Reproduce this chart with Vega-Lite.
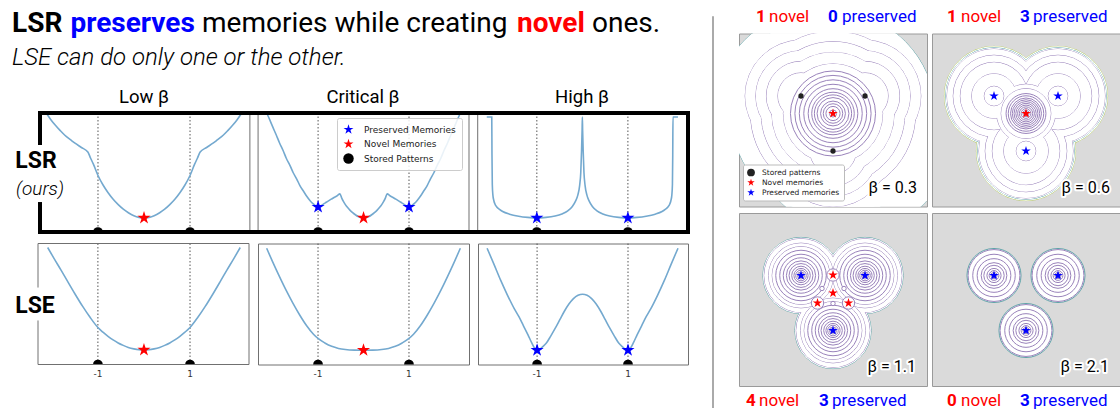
{
"$schema": "https://vega.github.io/schema/vega-lite/v6.json",
"padding": 0,
"background": "white",
"config": {"view": {"stroke": null}, "font": "Roboto", "title": {"font": "Roboto", "fontSize": 17, "fontWeight": "normal", "color": "#000000"}},
"datasets": {
"curves": [
{"g":"LSR Low","x":-2.11,"y":9.92},{"g":"LSR Low","x":-2.02,"y":9.42},{"g":"LSR Low","x":-1.93,"y":8.99},{"g":"LSR Low","x":-1.82,"y":8.52},{"g":"LSR Low","x":-1.72,"y":8.13},{"g":"LSR Low","x":-1.6,"y":7.76},{"g":"LSR Low","x":-1.5,"y":7.46},{"g":"LSR Low","x":-1.36,"y":7.1},{"g":"LSR Low","x":-1.22,"y":6.72},{"g":"LSR Low","x":-1.16,"y":6.2},{"g":"LSR Low","x":-1.1,"y":5.7},{"g":"LSR Low","x":-1.0,"y":4.75},{"g":"LSR Low","x":-0.89,"y":3.95},{"g":"LSR Low","x":-0.78,"y":3.3},{"g":"LSR Low","x":-0.67,"y":2.75},{"g":"LSR Low","x":-0.56,"y":2.3},{"g":"LSR Low","x":-0.45,"y":1.92},{"g":"LSR Low","x":-0.34,"y":1.62},{"g":"LSR Low","x":-0.22,"y":1.37},{"g":"LSR Low","x":-0.11,"y":1.23},{"g":"LSR Low","x":0,"y":1.18},
{"g":"LSR Low","x":0.11,"y":1.23},{"g":"LSR Low","x":0.22,"y":1.37},{"g":"LSR Low","x":0.34,"y":1.62},{"g":"LSR Low","x":0.45,"y":1.92},{"g":"LSR Low","x":0.56,"y":2.3},{"g":"LSR Low","x":0.67,"y":2.75},{"g":"LSR Low","x":0.78,"y":3.3},{"g":"LSR Low","x":0.89,"y":3.95},{"g":"LSR Low","x":1.0,"y":4.75},{"g":"LSR Low","x":1.1,"y":5.7},{"g":"LSR Low","x":1.16,"y":6.2},{"g":"LSR Low","x":1.22,"y":6.72},{"g":"LSR Low","x":1.36,"y":7.1},{"g":"LSR Low","x":1.5,"y":7.46},{"g":"LSR Low","x":1.6,"y":7.76},{"g":"LSR Low","x":1.72,"y":8.13},{"g":"LSR Low","x":1.82,"y":8.52},{"g":"LSR Low","x":1.93,"y":8.99},{"g":"LSR Low","x":2.02,"y":9.42},{"g":"LSR Low","x":2.11,"y":9.92},
{"g":"LSR Crit","x":-2.12,"y":9.92},{"g":"LSR Crit","x":-2.06,"y":9.4},{"g":"LSR Crit","x":-2.0,"y":8.85},{"g":"LSR Crit","x":-1.92,"y":8.15},{"g":"LSR Crit","x":-1.85,"y":7.5},{"g":"LSR Crit","x":-1.77,"y":6.85},{"g":"LSR Crit","x":-1.7,"y":6.2},{"g":"LSR Crit","x":-1.62,"y":5.6},{"g":"LSR Crit","x":-1.55,"y":5.0},{"g":"LSR Crit","x":-1.47,"y":4.45},{"g":"LSR Crit","x":-1.4,"y":3.9},{"g":"LSR Crit","x":-1.32,"y":3.42},{"g":"LSR Crit","x":-1.25,"y":3.0},{"g":"LSR Crit","x":-1.18,"y":2.65},{"g":"LSR Crit","x":-1.12,"y":2.4},{"g":"LSR Crit","x":-1.06,"y":2.22},{"g":"LSR Crit","x":-1.0,"y":2.1},{"g":"LSR Crit","x":-0.95,"y":2.18},{"g":"LSR Crit","x":-0.9,"y":2.3},{"g":"LSR Crit","x":-0.84,"y":2.45},{"g":"LSR Crit","x":-0.78,"y":2.6},{"g":"LSR Crit","x":-0.71,"y":2.76},{"g":"LSR Crit","x":-0.65,"y":2.9},{"g":"LSR Crit","x":-0.58,"y":3.05},{"g":"LSR Crit","x":-0.52,"y":3.2},{"g":"LSR Crit","x":-0.48,"y":2.85},{"g":"LSR Crit","x":-0.44,"y":2.55},{"g":"LSR Crit","x":-0.4,"y":2.3},{"g":"LSR Crit","x":-0.35,"y":2.05},{"g":"LSR Crit","x":-0.3,"y":1.84},{"g":"LSR Crit","x":-0.24,"y":1.63},{"g":"LSR Crit","x":-0.18,"y":1.45},{"g":"LSR Crit","x":-0.12,"y":1.3},{"g":"LSR Crit","x":-0.06,"y":1.21},{"g":"LSR Crit","x":0,"y":1.18},
{"g":"LSR Crit","x":0.06,"y":1.21},{"g":"LSR Crit","x":0.12,"y":1.3},{"g":"LSR Crit","x":0.18,"y":1.45},{"g":"LSR Crit","x":0.24,"y":1.63},{"g":"LSR Crit","x":0.3,"y":1.84},{"g":"LSR Crit","x":0.35,"y":2.05},{"g":"LSR Crit","x":0.4,"y":2.3},{"g":"LSR Crit","x":0.44,"y":2.55},{"g":"LSR Crit","x":0.48,"y":2.85},{"g":"LSR Crit","x":0.52,"y":3.2},{"g":"LSR Crit","x":0.58,"y":3.05},{"g":"LSR Crit","x":0.65,"y":2.9},{"g":"LSR Crit","x":0.71,"y":2.76},{"g":"LSR Crit","x":0.78,"y":2.6},{"g":"LSR Crit","x":0.84,"y":2.45},{"g":"LSR Crit","x":0.9,"y":2.3},{"g":"LSR Crit","x":0.95,"y":2.18},{"g":"LSR Crit","x":1.0,"y":2.1},{"g":"LSR Crit","x":1.06,"y":2.22},{"g":"LSR Crit","x":1.12,"y":2.4},{"g":"LSR Crit","x":1.18,"y":2.65},{"g":"LSR Crit","x":1.25,"y":3.0},{"g":"LSR Crit","x":1.32,"y":3.42},{"g":"LSR Crit","x":1.4,"y":3.9},{"g":"LSR Crit","x":1.47,"y":4.45},{"g":"LSR Crit","x":1.55,"y":5.0},{"g":"LSR Crit","x":1.62,"y":5.6},{"g":"LSR Crit","x":1.7,"y":6.2},{"g":"LSR Crit","x":1.77,"y":6.85},{"g":"LSR Crit","x":1.85,"y":7.5},{"g":"LSR Crit","x":1.92,"y":8.15},{"g":"LSR Crit","x":2.0,"y":8.85},{"g":"LSR Crit","x":2.06,"y":9.4},{"g":"LSR Crit","x":2.12,"y":9.92},
{"g":"LSR High","x":-2.1,"y":9.66},{"g":"LSR High","x":-1.99,"y":9.66},{"g":"LSR High","x":-1.985,"y":6.5},{"g":"LSR High","x":-1.978,"y":4.0},{"g":"LSR High","x":-1.965,"y":3.1},{"g":"LSR High","x":-1.945,"y":2.65},{"g":"LSR High","x":-1.92,"y":2.35},{"g":"LSR High","x":-1.88,"y":2.1},{"g":"LSR High","x":-1.82,"y":1.9},{"g":"LSR High","x":-1.75,"y":1.72},{"g":"LSR High","x":-1.6,"y":1.5},{"g":"LSR High","x":-1.4,"y":1.33},{"g":"LSR High","x":-1.2,"y":1.23},{"g":"LSR High","x":-1.0,"y":1.18},{"g":"LSR High","x":-0.8,"y":1.23},{"g":"LSR High","x":-0.6,"y":1.35},{"g":"LSR High","x":-0.45,"y":1.52},{"g":"LSR High","x":-0.32,"y":1.78},{"g":"LSR High","x":-0.22,"y":2.15},{"g":"LSR High","x":-0.15,"y":2.6},{"g":"LSR High","x":-0.1,"y":3.1},{"g":"LSR High","x":-0.06,"y":3.9},{"g":"LSR High","x":-0.035,"y":5.0},{"g":"LSR High","x":-0.018,"y":6.8},{"g":"LSR High","x":-0.006,"y":8.5},{"g":"LSR High","x":0,"y":9.66},
{"g":"LSR High","x":0.006,"y":8.5},{"g":"LSR High","x":0.018,"y":6.8},{"g":"LSR High","x":0.035,"y":5.0},{"g":"LSR High","x":0.06,"y":3.9},{"g":"LSR High","x":0.1,"y":3.1},{"g":"LSR High","x":0.15,"y":2.6},{"g":"LSR High","x":0.22,"y":2.15},{"g":"LSR High","x":0.32,"y":1.78},{"g":"LSR High","x":0.45,"y":1.52},{"g":"LSR High","x":0.6,"y":1.35},{"g":"LSR High","x":0.8,"y":1.23},{"g":"LSR High","x":1.0,"y":1.18},{"g":"LSR High","x":1.2,"y":1.23},{"g":"LSR High","x":1.4,"y":1.33},{"g":"LSR High","x":1.6,"y":1.5},{"g":"LSR High","x":1.75,"y":1.72},{"g":"LSR High","x":1.82,"y":1.9},{"g":"LSR High","x":1.88,"y":2.1},{"g":"LSR High","x":1.92,"y":2.35},{"g":"LSR High","x":1.945,"y":2.65},{"g":"LSR High","x":1.965,"y":3.1},{"g":"LSR High","x":1.978,"y":4.0},{"g":"LSR High","x":1.985,"y":6.5},{"g":"LSR High","x":1.99,"y":9.66},{"g":"LSR High","x":2.1,"y":9.66},
{"g":"LSE Low","x":-2.09,"y":9.67},{"g":"LSE Low","x":-1.95,"y":8.75},{"g":"LSE Low","x":-1.8,"y":7.8},{"g":"LSE Low","x":-1.67,"y":6.95},{"g":"LSE Low","x":-1.5,"y":5.85},{"g":"LSE Low","x":-1.33,"y":4.8},{"g":"LSE Low","x":-1.17,"y":3.9},{"g":"LSE Low","x":-1.0,"y":3.06},{"g":"LSE Low","x":-0.89,"y":2.67},{"g":"LSE Low","x":-0.78,"y":2.33},{"g":"LSE Low","x":-0.67,"y":2.03},{"g":"LSE Low","x":-0.56,"y":1.78},{"g":"LSE Low","x":-0.45,"y":1.58},{"g":"LSE Low","x":-0.34,"y":1.41},{"g":"LSE Low","x":-0.22,"y":1.29},{"g":"LSE Low","x":-0.11,"y":1.22},{"g":"LSE Low","x":0,"y":1.2},
{"g":"LSE Low","x":0.11,"y":1.22},{"g":"LSE Low","x":0.22,"y":1.29},{"g":"LSE Low","x":0.34,"y":1.41},{"g":"LSE Low","x":0.45,"y":1.58},{"g":"LSE Low","x":0.56,"y":1.78},{"g":"LSE Low","x":0.67,"y":2.03},{"g":"LSE Low","x":0.78,"y":2.33},{"g":"LSE Low","x":0.89,"y":2.67},{"g":"LSE Low","x":1.0,"y":3.06},{"g":"LSE Low","x":1.17,"y":3.9},{"g":"LSE Low","x":1.33,"y":4.8},{"g":"LSE Low","x":1.5,"y":5.85},{"g":"LSE Low","x":1.67,"y":6.95},{"g":"LSE Low","x":1.8,"y":7.8},{"g":"LSE Low","x":1.95,"y":8.75},{"g":"LSE Low","x":2.09,"y":9.67},
{"g":"LSE Crit","x":-2.13,"y":9.61},{"g":"LSE Crit","x":-2.0,"y":8.5},{"g":"LSE Crit","x":-1.85,"y":7.28},{"g":"LSE Crit","x":-1.7,"y":6.12},{"g":"LSE Crit","x":-1.55,"y":5.05},{"g":"LSE Crit","x":-1.4,"y":4.07},{"g":"LSE Crit","x":-1.25,"y":3.2},{"g":"LSE Crit","x":-1.1,"y":2.5},{"g":"LSE Crit","x":-1.0,"y":2.15},{"g":"LSE Crit","x":-0.85,"y":1.78},{"g":"LSE Crit","x":-0.7,"y":1.5},{"g":"LSE Crit","x":-0.55,"y":1.33},{"g":"LSE Crit","x":-0.4,"y":1.24},{"g":"LSE Crit","x":-0.2,"y":1.19},{"g":"LSE Crit","x":0,"y":1.18},
{"g":"LSE Crit","x":0.2,"y":1.19},{"g":"LSE Crit","x":0.4,"y":1.24},{"g":"LSE Crit","x":0.55,"y":1.33},{"g":"LSE Crit","x":0.7,"y":1.5},{"g":"LSE Crit","x":0.85,"y":1.78},{"g":"LSE Crit","x":1.0,"y":2.15},{"g":"LSE Crit","x":1.1,"y":2.5},{"g":"LSE Crit","x":1.25,"y":3.2},{"g":"LSE Crit","x":1.4,"y":4.07},{"g":"LSE Crit","x":1.55,"y":5.05},{"g":"LSE Crit","x":1.7,"y":6.12},{"g":"LSE Crit","x":1.85,"y":7.28},{"g":"LSE Crit","x":2.0,"y":8.5},{"g":"LSE Crit","x":2.13,"y":9.61},
{"g":"LSE High","x":-2.1,"y":9.61},{"g":"LSE High","x":-1.95,"y":8.3},{"g":"LSE High","x":-1.8,"y":6.95},{"g":"LSE High","x":-1.65,"y":5.72},{"g":"LSE High","x":-1.5,"y":4.6},{"g":"LSE High","x":-1.4,"y":3.95},{"g":"LSE High","x":-1.3,"y":3.2},{"g":"LSE High","x":-1.2,"y":2.45},{"g":"LSE High","x":-1.12,"y":1.8},{"g":"LSE High","x":-1.06,"y":1.38},{"g":"LSE High","x":-1.0,"y":1.18},{"g":"LSE High","x":-0.94,"y":1.25},{"g":"LSE High","x":-0.88,"y":1.45},{"g":"LSE High","x":-0.8,"y":1.75},{"g":"LSE High","x":-0.7,"y":2.35},{"g":"LSE High","x":-0.6,"y":3.0},{"g":"LSE High","x":-0.5,"y":3.7},{"g":"LSE High","x":-0.4,"y":4.4},{"g":"LSE High","x":-0.3,"y":5.0},{"g":"LSE High","x":-0.2,"y":5.45},{"g":"LSE High","x":-0.1,"y":5.72},{"g":"LSE High","x":0,"y":5.81},
{"g":"LSE High","x":0.1,"y":5.72},{"g":"LSE High","x":0.2,"y":5.45},{"g":"LSE High","x":0.3,"y":5.0},{"g":"LSE High","x":0.4,"y":4.4},{"g":"LSE High","x":0.5,"y":3.7},{"g":"LSE High","x":0.6,"y":3.0},{"g":"LSE High","x":0.7,"y":2.35},{"g":"LSE High","x":0.8,"y":1.75},{"g":"LSE High","x":0.88,"y":1.45},{"g":"LSE High","x":0.94,"y":1.25},{"g":"LSE High","x":1.0,"y":1.18},{"g":"LSE High","x":1.06,"y":1.38},{"g":"LSE High","x":1.12,"y":1.8},{"g":"LSE High","x":1.2,"y":2.45},{"g":"LSE High","x":1.3,"y":3.2},{"g":"LSE High","x":1.4,"y":3.95},{"g":"LSE High","x":1.5,"y":4.6},{"g":"LSE High","x":1.65,"y":5.72},{"g":"LSE High","x":1.8,"y":6.95},{"g":"LSE High","x":1.95,"y":8.3},{"g":"LSE High","x":2.1,"y":9.61}
],
"markers": [
{"g":"LSR Low","type":"Novel Memories","x":0,"y":1.18},{"g":"LSR Low","type":"Stored Patterns","x":-1,"y":0},{"g":"LSR Low","type":"Stored Patterns","x":1,"y":0},
{"g":"LSR Crit","type":"Preserved Memories","x":-1,"y":2.1},{"g":"LSR Crit","type":"Preserved Memories","x":1,"y":2.1},{"g":"LSR Crit","type":"Novel Memories","x":0,"y":1.18},{"g":"LSR Crit","type":"Stored Patterns","x":-1,"y":0},{"g":"LSR Crit","type":"Stored Patterns","x":1,"y":0},
{"g":"LSR High","type":"Preserved Memories","x":-1,"y":1.18},{"g":"LSR High","type":"Preserved Memories","x":1,"y":1.18},{"g":"LSR High","type":"Stored Patterns","x":-1,"y":0},{"g":"LSR High","type":"Stored Patterns","x":1,"y":0},
{"g":"LSE Low","type":"Novel Memories","x":0,"y":1.2},{"g":"LSE Low","type":"Stored Patterns","x":-1,"y":0},{"g":"LSE Low","type":"Stored Patterns","x":1,"y":0},
{"g":"LSE Crit","type":"Novel Memories","x":0,"y":1.18},{"g":"LSE Crit","type":"Stored Patterns","x":-1,"y":0},{"g":"LSE Crit","type":"Stored Patterns","x":1,"y":0},
{"g":"LSE High","type":"Preserved Memories","x":-1,"y":1.18},{"g":"LSE High","type":"Preserved Memories","x":1,"y":1.18},{"g":"LSE High","type":"Stored Patterns","x":-1,"y":0},{"g":"LSE High","type":"Stored Patterns","x":1,"y":0}
],
"contours": [
{"p":"0.3","lv":1,"ps":1,"x":0,"y":0.13,"r":2.3},{"p":"0.3","lv":1,"ps":1,"x":-0.64,"y":0.48,"r":1.79},{"p":"0.3","lv":1,"ps":1,"x":0.64,"y":0.48,"r":1.35},{"p":"0.3","lv":1,"ps":1,"x":0,"y":-0.62,"r":1.65},{"p":"0.3","lv":1,"ps":1,"x":0.7,"y":-0.6,"r":1.75},
{"p":"0.3","lv":1,"ps":2,"x":0,"y":0.13,"r":2.3},{"p":"0.3","lv":1,"ps":2,"x":-0.64,"y":0.48,"r":1.79},{"p":"0.3","lv":1,"ps":2,"x":0.64,"y":0.48,"r":1.35},{"p":"0.3","lv":1,"ps":2,"x":0,"y":-0.62,"r":1.65},{"p":"0.3","lv":1,"ps":2,"x":0.7,"y":-0.6,"r":1.75},
{"p":"0.3","lv":2,"ps":1,"x":0,"y":0.13,"r":1.86},{"p":"0.3","lv":2,"ps":1,"x":-0.64,"y":0.48,"r":1.26},{"p":"0.3","lv":2,"ps":1,"x":0.64,"y":0.48,"r":1.26},{"p":"0.3","lv":2,"ps":1,"x":0,"y":-0.62,"r":1.26},
{"p":"0.3","lv":2,"ps":2,"x":0,"y":0.13,"r":1.86},{"p":"0.3","lv":2,"ps":2,"x":-0.64,"y":0.48,"r":1.26},{"p":"0.3","lv":2,"ps":2,"x":0.64,"y":0.48,"r":1.26},{"p":"0.3","lv":2,"ps":2,"x":0,"y":-0.62,"r":1.26},
{"p":"0.3","lv":3,"ps":1,"x":0,"y":0.13,"r":1.62},{"p":"0.3","lv":3,"ps":1,"x":-0.64,"y":0.48,"r":1.02},{"p":"0.3","lv":3,"ps":1,"x":0.64,"y":0.48,"r":1.02},{"p":"0.3","lv":3,"ps":1,"x":0,"y":-0.62,"r":1.02},
{"p":"0.3","lv":3,"ps":2,"x":0,"y":0.13,"r":1.62},{"p":"0.3","lv":3,"ps":2,"x":-0.64,"y":0.48,"r":1.02},{"p":"0.3","lv":3,"ps":2,"x":0.64,"y":0.48,"r":1.02},{"p":"0.3","lv":3,"ps":2,"x":0,"y":-0.62,"r":1.02},
{"p":"0.3","lv":4,"ps":1,"x":0,"y":0.13,"r":1.38},{"p":"0.3","lv":4,"ps":1,"x":-0.64,"y":0.48,"r":0.78},{"p":"0.3","lv":4,"ps":1,"x":0.64,"y":0.48,"r":0.78},{"p":"0.3","lv":4,"ps":1,"x":0,"y":-0.62,"r":0.78},
{"p":"0.3","lv":4,"ps":2,"x":0,"y":0.13,"r":1.38},{"p":"0.3","lv":4,"ps":2,"x":-0.64,"y":0.48,"r":0.78},{"p":"0.3","lv":4,"ps":2,"x":0.64,"y":0.48,"r":0.78},{"p":"0.3","lv":4,"ps":2,"x":0,"y":-0.62,"r":0.78},
{"p":"0.3","lv":5,"ps":1,"x":0,"y":0.13,"r":1.12},{"p":"0.3","lv":5,"ps":1,"x":-0.64,"y":0.48,"r":0.52},{"p":"0.3","lv":5,"ps":1,"x":0.64,"y":0.48,"r":0.52},{"p":"0.3","lv":5,"ps":1,"x":0,"y":-0.62,"r":0.52},
{"p":"0.3","lv":5,"ps":2,"x":0,"y":0.13,"r":1.12},{"p":"0.3","lv":5,"ps":2,"x":-0.64,"y":0.48,"r":0.52},{"p":"0.3","lv":5,"ps":2,"x":0.64,"y":0.48,"r":0.52},{"p":"0.3","lv":5,"ps":2,"x":0,"y":-0.62,"r":0.52},
{"p":"0.3","lv":6,"ps":1,"x":0,"y":0.13,"r":0.96},{"p":"0.3","lv":7,"ps":1,"x":0,"y":0.13,"r":0.86},{"p":"0.3","lv":8,"ps":1,"x":0,"y":0.13,"r":0.76},{"p":"0.3","lv":9,"ps":1,"x":0,"y":0.13,"r":0.66},{"p":"0.3","lv":10,"ps":1,"x":0,"y":0.13,"r":0.56},{"p":"0.3","lv":11,"ps":1,"x":0,"y":0.13,"r":0.48},{"p":"0.3","lv":12,"ps":1,"x":0,"y":0.13,"r":0.42},{"p":"0.3","lv":13,"ps":1,"x":0,"y":0.13,"r":0.36},{"p":"0.3","lv":14,"ps":1,"x":0,"y":0.13,"r":0.28},{"p":"0.3","lv":15,"ps":1,"x":0,"y":0.13,"r":0.22},{"p":"0.3","lv":16,"ps":1,"x":0,"y":0.13,"r":0.16},{"p":"0.3","lv":17,"ps":1,"x":0,"y":0.13,"r":0.08},
{"p":"0.6","lv":0,"ps":1,"x":-0.64,"y":0.48,"r":1.12},{"p":"0.6","lv":0,"ps":1,"x":0.64,"y":0.48,"r":1.12},{"p":"0.6","lv":0,"ps":1,"x":0,"y":-0.62,"r":1.12},
{"p":"0.6","lv":0,"ps":2,"x":-0.64,"y":0.48,"r":1.12},{"p":"0.6","lv":0,"ps":2,"x":0.64,"y":0.48,"r":1.12},{"p":"0.6","lv":0,"ps":2,"x":0,"y":-0.62,"r":1.12},
{"p":"0.6","lv":1,"ps":1,"x":-0.64,"y":0.48,"r":1.09},{"p":"0.6","lv":1,"ps":1,"x":0.64,"y":0.48,"r":1.09},{"p":"0.6","lv":1,"ps":1,"x":0,"y":-0.62,"r":1.09},
{"p":"0.6","lv":1,"ps":2,"x":-0.64,"y":0.48,"r":1.09},{"p":"0.6","lv":1,"ps":2,"x":0.64,"y":0.48,"r":1.09},{"p":"0.6","lv":1,"ps":2,"x":0,"y":-0.62,"r":1.09},
{"p":"0.6","lv":2,"ps":1,"x":-0.64,"y":0.48,"r":1.06},{"p":"0.6","lv":2,"ps":1,"x":0.64,"y":0.48,"r":1.06},{"p":"0.6","lv":2,"ps":1,"x":0,"y":-0.62,"r":1.06},
{"p":"0.6","lv":2,"ps":2,"x":-0.64,"y":0.48,"r":1.06},{"p":"0.6","lv":2,"ps":2,"x":0.64,"y":0.48,"r":1.06},{"p":"0.6","lv":2,"ps":2,"x":0,"y":-0.62,"r":1.06},
{"p":"0.6","lv":3,"ps":1,"x":-0.64,"y":0.48,"r":0.92},{"p":"0.6","lv":3,"ps":1,"x":0.64,"y":0.48,"r":0.92},{"p":"0.6","lv":3,"ps":1,"x":0,"y":-0.62,"r":0.92},
{"p":"0.6","lv":3,"ps":2,"x":-0.64,"y":0.48,"r":0.92},{"p":"0.6","lv":3,"ps":2,"x":0.64,"y":0.48,"r":0.92},{"p":"0.6","lv":3,"ps":2,"x":0,"y":-0.62,"r":0.92},
{"p":"0.6","lv":4,"ps":1,"x":-0.64,"y":0.48,"r":0.76},{"p":"0.6","lv":4,"ps":1,"x":0.64,"y":0.48,"r":0.76},{"p":"0.6","lv":4,"ps":1,"x":0,"y":-0.62,"r":0.76},
{"p":"0.6","lv":4,"ps":2,"x":-0.64,"y":0.48,"r":0.76},{"p":"0.6","lv":4,"ps":2,"x":0.64,"y":0.48,"r":0.76},{"p":"0.6","lv":4,"ps":2,"x":0,"y":-0.62,"r":0.76},
{"p":"0.6","lv":5,"ps":1,"x":-0.64,"y":0.48,"r":0.5},{"p":"0.6","lv":5,"ps":1,"x":0.64,"y":0.48,"r":0.5},{"p":"0.6","lv":5,"ps":1,"x":0,"y":-0.62,"r":0.5},{"p":"0.6","lv":5,"ps":1,"x":0,"y":0.13,"r":0.66},
{"p":"0.6","lv":5,"ps":2,"x":-0.64,"y":0.48,"r":0.5},{"p":"0.6","lv":5,"ps":2,"x":0.64,"y":0.48,"r":0.5},{"p":"0.6","lv":5,"ps":2,"x":0,"y":-0.62,"r":0.5},{"p":"0.6","lv":5,"ps":2,"x":0,"y":0.13,"r":0.66},
{"p":"0.6","lv":6,"ps":1,"x":-0.64,"y":0.48,"r":0.22},{"p":"0.6","lv":6,"ps":1,"x":0.64,"y":0.48,"r":0.22},{"p":"0.6","lv":6,"ps":1,"x":0,"y":-0.62,"r":0.22},{"p":"0.6","lv":6,"ps":1,"x":0,"y":0.13,"r":0.56},
{"p":"0.6","lv":6,"ps":2,"x":-0.64,"y":0.48,"r":0.22},{"p":"0.6","lv":6,"ps":2,"x":0.64,"y":0.48,"r":0.22},{"p":"0.6","lv":6,"ps":2,"x":0,"y":-0.62,"r":0.22},{"p":"0.6","lv":6,"ps":2,"x":0,"y":0.13,"r":0.56},
{"p":"0.6","lv":7,"ps":1,"x":0,"y":0.13,"r":0.45},{"p":"0.6","lv":8,"ps":1,"x":0,"y":0.13,"r":0.4},{"p":"0.6","lv":9,"ps":1,"x":0,"y":0.13,"r":0.35},{"p":"0.6","lv":10,"ps":1,"x":0,"y":0.13,"r":0.31},{"p":"0.6","lv":11,"ps":1,"x":0,"y":0.13,"r":0.27},{"p":"0.6","lv":12,"ps":1,"x":0,"y":0.13,"r":0.23},{"p":"0.6","lv":13,"ps":1,"x":0,"y":0.13,"r":0.19},{"p":"0.6","lv":14,"ps":1,"x":0,"y":0.13,"r":0.15},{"p":"0.6","lv":15,"ps":1,"x":0,"y":0.13,"r":0.11},{"p":"0.6","lv":16,"ps":1,"x":0,"y":0.13,"r":0.07},{"p":"0.6","lv":17,"ps":1,"x":0,"y":0.13,"r":0.04},
{"p":"1.1","lv":1,"ps":1,"x":-0.64,"y":0.48,"r":0.86},{"p":"1.1","lv":1,"ps":1,"x":0.64,"y":0.48,"r":0.86},{"p":"1.1","lv":1,"ps":1,"x":0,"y":-0.62,"r":0.86},
{"p":"1.1","lv":1,"ps":2,"x":-0.64,"y":0.48,"r":0.86},{"p":"1.1","lv":1,"ps":2,"x":0.64,"y":0.48,"r":0.86},{"p":"1.1","lv":1,"ps":2,"x":0,"y":-0.62,"r":0.86},
{"p":"1.1","lv":2,"ps":1,"x":-0.64,"y":0.48,"r":0.83},{"p":"1.1","lv":2,"ps":1,"x":0.64,"y":0.48,"r":0.83},{"p":"1.1","lv":2,"ps":1,"x":0,"y":-0.62,"r":0.83},
{"p":"1.1","lv":2,"ps":2,"x":-0.64,"y":0.48,"r":0.83},{"p":"1.1","lv":2,"ps":2,"x":0.64,"y":0.48,"r":0.83},{"p":"1.1","lv":2,"ps":2,"x":0,"y":-0.62,"r":0.83},
{"p":"1.1","lv":3,"ps":1,"x":-0.64,"y":0.48,"r":0.73},{"p":"1.1","lv":3,"ps":1,"x":0.64,"y":0.48,"r":0.73},{"p":"1.1","lv":3,"ps":1,"x":0,"y":-0.62,"r":0.73},
{"p":"1.1","lv":3,"ps":2,"x":-0.64,"y":0.48,"r":0.73},{"p":"1.1","lv":3,"ps":2,"x":0.64,"y":0.48,"r":0.73},{"p":"1.1","lv":3,"ps":2,"x":0,"y":-0.62,"r":0.73},
{"p":"1.1","lv":4,"ps":1,"x":-0.64,"y":0.48,"r":0.65},{"p":"1.1","lv":4,"ps":1,"x":0.64,"y":0.48,"r":0.65},{"p":"1.1","lv":4,"ps":1,"x":0,"y":-0.62,"r":0.65},
{"p":"1.1","lv":4,"ps":2,"x":-0.64,"y":0.48,"r":0.65},{"p":"1.1","lv":4,"ps":2,"x":0.64,"y":0.48,"r":0.65},{"p":"1.1","lv":4,"ps":2,"x":0,"y":-0.62,"r":0.65},
{"p":"1.1","lv":5,"ps":1,"x":-0.64,"y":0.48,"r":0.57},{"p":"1.1","lv":5,"ps":1,"x":0.64,"y":0.48,"r":0.57},{"p":"1.1","lv":5,"ps":1,"x":0,"y":-0.62,"r":0.57},
{"p":"1.1","lv":6,"ps":1,"x":-0.64,"y":0.48,"r":0.48},{"p":"1.1","lv":6,"ps":1,"x":0.64,"y":0.48,"r":0.48},{"p":"1.1","lv":6,"ps":1,"x":0,"y":-0.62,"r":0.48},
{"p":"1.1","lv":7,"ps":1,"x":-0.64,"y":0.48,"r":0.4},{"p":"1.1","lv":7,"ps":1,"x":0.64,"y":0.48,"r":0.4},{"p":"1.1","lv":7,"ps":1,"x":0,"y":-0.62,"r":0.4},
{"p":"1.1","lv":8,"ps":1,"x":-0.64,"y":0.48,"r":0.33},{"p":"1.1","lv":8,"ps":1,"x":0.64,"y":0.48,"r":0.33},{"p":"1.1","lv":8,"ps":1,"x":0,"y":-0.62,"r":0.33},
{"p":"1.1","lv":9,"ps":1,"x":-0.64,"y":0.48,"r":0.27},{"p":"1.1","lv":9,"ps":1,"x":0.64,"y":0.48,"r":0.27},{"p":"1.1","lv":9,"ps":1,"x":0,"y":-0.62,"r":0.27},
{"p":"1.1","lv":10,"ps":1,"x":-0.64,"y":0.48,"r":0.21},{"p":"1.1","lv":10,"ps":1,"x":0.64,"y":0.48,"r":0.21},{"p":"1.1","lv":10,"ps":1,"x":0,"y":-0.62,"r":0.21},
{"p":"1.1","lv":11,"ps":1,"x":-0.64,"y":0.48,"r":0.16},{"p":"1.1","lv":11,"ps":1,"x":0.64,"y":0.48,"r":0.16},{"p":"1.1","lv":11,"ps":1,"x":0,"y":-0.62,"r":0.16},
{"p":"1.1","lv":12,"ps":1,"x":-0.64,"y":0.48,"r":0.12},{"p":"1.1","lv":12,"ps":1,"x":0.64,"y":0.48,"r":0.12},{"p":"1.1","lv":12,"ps":1,"x":0,"y":-0.62,"r":0.12},
{"p":"1.1","lv":13,"ps":1,"x":-0.64,"y":0.48,"r":0.08},{"p":"1.1","lv":13,"ps":1,"x":0.64,"y":0.48,"r":0.08},{"p":"1.1","lv":13,"ps":1,"x":0,"y":-0.62,"r":0.08},
{"p":"1.1","lv":14,"ps":1,"x":-0.64,"y":0.48,"r":0.05},{"p":"1.1","lv":14,"ps":1,"x":0.64,"y":0.48,"r":0.05},{"p":"1.1","lv":14,"ps":1,"x":0,"y":-0.62,"r":0.05},
{"p":"1.1","lv":15,"ps":1,"x":0,"y":0.49,"r":0.14},{"p":"1.1","lv":15,"ps":1,"x":-0.31,"y":-0.07,"r":0.14},{"p":"1.1","lv":15,"ps":1,"x":0.31,"y":-0.07,"r":0.14},
{"p":"1.1","lv":16,"ps":1,"x":-0.22,"y":0.22,"r":0.05},{"p":"1.1","lv":16,"ps":1,"x":0.22,"y":0.22,"r":0.05},{"p":"1.1","lv":16,"ps":1,"x":0,"y":-0.08,"r":0.05},
{"p":"2.1","lv":1,"ps":1,"x":-0.64,"y":0.48,"r":0.61},{"p":"2.1","lv":1,"ps":1,"x":0.64,"y":0.48,"r":0.61},{"p":"2.1","lv":1,"ps":1,"x":0,"y":-0.62,"r":0.61},
{"p":"2.1","lv":2,"ps":1,"x":-0.64,"y":0.48,"r":0.585},{"p":"2.1","lv":2,"ps":1,"x":0.64,"y":0.48,"r":0.585},{"p":"2.1","lv":2,"ps":1,"x":0,"y":-0.62,"r":0.585},
{"p":"2.1","lv":3,"ps":1,"x":-0.64,"y":0.48,"r":0.48},{"p":"2.1","lv":3,"ps":1,"x":0.64,"y":0.48,"r":0.48},{"p":"2.1","lv":3,"ps":1,"x":0,"y":-0.62,"r":0.48},
{"p":"2.1","lv":4,"ps":1,"x":-0.64,"y":0.48,"r":0.38},{"p":"2.1","lv":4,"ps":1,"x":0.64,"y":0.48,"r":0.38},{"p":"2.1","lv":4,"ps":1,"x":0,"y":-0.62,"r":0.38},
{"p":"2.1","lv":5,"ps":1,"x":-0.64,"y":0.48,"r":0.29},{"p":"2.1","lv":5,"ps":1,"x":0.64,"y":0.48,"r":0.29},{"p":"2.1","lv":5,"ps":1,"x":0,"y":-0.62,"r":0.29},
{"p":"2.1","lv":6,"ps":1,"x":-0.64,"y":0.48,"r":0.23},{"p":"2.1","lv":6,"ps":1,"x":0.64,"y":0.48,"r":0.23},{"p":"2.1","lv":6,"ps":1,"x":0,"y":-0.62,"r":0.23},
{"p":"2.1","lv":7,"ps":1,"x":-0.64,"y":0.48,"r":0.16},{"p":"2.1","lv":7,"ps":1,"x":0.64,"y":0.48,"r":0.16},{"p":"2.1","lv":7,"ps":1,"x":0,"y":-0.62,"r":0.16},
{"p":"2.1","lv":8,"ps":1,"x":-0.64,"y":0.48,"r":0.11},{"p":"2.1","lv":8,"ps":1,"x":0.64,"y":0.48,"r":0.11},{"p":"2.1","lv":8,"ps":1,"x":0,"y":-0.62,"r":0.11},
{"p":"2.1","lv":9,"ps":1,"x":-0.64,"y":0.48,"r":0.07},{"p":"2.1","lv":9,"ps":1,"x":0.64,"y":0.48,"r":0.07},{"p":"2.1","lv":9,"ps":1,"x":0,"y":-0.62,"r":0.07},
{"p":"2.1","lv":10,"ps":1,"x":-0.64,"y":0.48,"r":0.04},{"p":"2.1","lv":10,"ps":1,"x":0.64,"y":0.48,"r":0.04},{"p":"2.1","lv":10,"ps":1,"x":0,"y":-0.62,"r":0.04}
],
"memories": [
{"p":"0.3","type":"Novel memories","x":0,"y":0.13},{"p":"0.3","type":"Stored patterns","x":-0.64,"y":0.48},{"p":"0.3","type":"Stored patterns","x":0.64,"y":0.48},{"p":"0.3","type":"Stored patterns","x":0,"y":-0.62},
{"p":"0.6","type":"Novel memories","x":0,"y":0.13},{"p":"0.6","type":"Preserved memories","x":-0.64,"y":0.48},{"p":"0.6","type":"Preserved memories","x":0.64,"y":0.48},{"p":"0.6","type":"Preserved memories","x":0,"y":-0.62},
{"p":"1.1","type":"Preserved memories","x":-0.64,"y":0.48},{"p":"1.1","type":"Preserved memories","x":0.64,"y":0.48},{"p":"1.1","type":"Preserved memories","x":0,"y":-0.62},{"p":"1.1","type":"Novel memories","x":0,"y":0.49},{"p":"1.1","type":"Novel memories","x":0,"y":0.13},{"p":"1.1","type":"Novel memories","x":-0.31,"y":-0.07},{"p":"1.1","type":"Novel memories","x":0.31,"y":-0.07},
{"p":"2.1","type":"Preserved memories","x":-0.64,"y":0.48},{"p":"2.1","type":"Preserved memories","x":0.64,"y":0.48},{"p":"2.1","type":"Preserved memories","x":0,"y":-0.62}
],
"counts": [
{"p":"0.3","novel":1,"preserved":0,"beta":"β = 0.3"},{"p":"0.6","novel":1,"preserved":3,"beta":"β = 0.6"},{"p":"1.1","novel":4,"preserved":3,"beta":"β = 1.1"},{"p":"2.1","novel":0,"preserved":3,"beta":"β = 2.1"}
]
},
"hconcat": [
{
"vconcat": [
{
"width": 700, "height": 110,
"data": {"values": [{"a": "LSR", "b": "preserves", "c": "memories while creating", "d": "novel", "e": "ones.", "f": "LSE can do only one or the other.", "h1": "Low β", "h2": "Critical β", "h3": "High β"}]},
"layer": [
{"mark": {"type": "text", "align": "left", "baseline": "alphabetic", "fontSize": 28, "fontWeight": "bold", "color": "#000000"}, "encoding": {"x": {"datum": 12, "type": "quantitative", "scale": {"domain": [0, 700], "nice": false, "zero": false}, "axis": null}, "y": {"datum": 32, "type": "quantitative", "scale": {"domain": [0, 110], "reverse": true, "nice": false, "zero": false}, "axis": null}, "text": {"field": "a"}}},
{"mark": {"type": "text", "align": "left", "baseline": "alphabetic", "fontSize": 28, "fontWeight": "bold", "color": "#0000ff"}, "encoding": {"x": {"datum": 70.5, "type": "quantitative", "scale": {"domain": [0, 700], "nice": false, "zero": false}, "axis": null}, "y": {"datum": 32, "type": "quantitative", "scale": {"domain": [0, 110], "reverse": true, "nice": false, "zero": false}, "axis": null}, "text": {"field": "b"}}},
{"mark": {"type": "text", "align": "left", "baseline": "alphabetic", "fontSize": 28, "fontWeight": "normal", "color": "#000000"}, "encoding": {"x": {"datum": 202, "type": "quantitative", "scale": {"domain": [0, 700], "nice": false, "zero": false}, "axis": null}, "y": {"datum": 32, "type": "quantitative", "scale": {"domain": [0, 110], "reverse": true, "nice": false, "zero": false}, "axis": null}, "text": {"field": "c"}}},
{"mark": {"type": "text", "align": "left", "baseline": "alphabetic", "fontSize": 28, "fontWeight": "bold", "color": "#ff0000"}, "encoding": {"x": {"datum": 517, "type": "quantitative", "scale": {"domain": [0, 700], "nice": false, "zero": false}, "axis": null}, "y": {"datum": 32, "type": "quantitative", "scale": {"domain": [0, 110], "reverse": true, "nice": false, "zero": false}, "axis": null}, "text": {"field": "d"}}},
{"mark": {"type": "text", "align": "left", "baseline": "alphabetic", "fontSize": 28, "fontWeight": "normal", "color": "#000000"}, "encoding": {"x": {"datum": 592, "type": "quantitative", "scale": {"domain": [0, 700], "nice": false, "zero": false}, "axis": null}, "y": {"datum": 32, "type": "quantitative", "scale": {"domain": [0, 110], "reverse": true, "nice": false, "zero": false}, "axis": null}, "text": {"field": "e"}}},
{"mark": {"type": "text", "align": "left", "baseline": "alphabetic", "fontSize": 24, "fontWeight": 300, "fontStyle": "italic", "color": "#000000"}, "encoding": {"x": {"datum": 12, "type": "quantitative", "scale": {"domain": [0, 700], "nice": false, "zero": false}, "axis": null}, "y": {"datum": 65, "type": "quantitative", "scale": {"domain": [0, 110], "reverse": true, "nice": false, "zero": false}, "axis": null}, "text": {"field": "f"}}},
{"mark": {"type": "text", "align": "center", "baseline": "alphabetic", "fontSize": 18.5, "color": "#000000"}, "encoding": {"x": {"datum": 144, "type": "quantitative", "scale": {"domain": [0, 700], "nice": false, "zero": false}, "axis": null}, "y": {"datum": 103, "type": "quantitative", "scale": {"domain": [0, 110], "reverse": true, "nice": false, "zero": false}, "axis": null}, "text": {"field": "h1"}}},
{"mark": {"type": "text", "align": "center", "baseline": "alphabetic", "fontSize": 18.5, "color": "#000000"}, "encoding": {"x": {"datum": 363, "type": "quantitative", "scale": {"domain": [0, 700], "nice": false, "zero": false}, "axis": null}, "y": {"datum": 103, "type": "quantitative", "scale": {"domain": [0, 110], "reverse": true, "nice": false, "zero": false}, "axis": null}, "text": {"field": "h2"}}},
{"mark": {"type": "text", "align": "center", "baseline": "alphabetic", "fontSize": 18.5, "color": "#000000"}, "encoding": {"x": {"datum": 582, "type": "quantitative", "scale": {"domain": [0, 700], "nice": false, "zero": false}, "axis": null}, "y": {"datum": 103, "type": "quantitative", "scale": {"domain": [0, 110], "reverse": true, "nice": false, "zero": false}, "axis": null}, "text": {"field": "h3"}}}
]
},
{
"vconcat": [
{
"hconcat": [
{
"width": 40, "height": 119,
"data": {"values": [{"a": "LSR", "b": "(ours)"}]},
"layer": [
{"mark": {"type": "text", "align": "center", "baseline": "alphabetic", "fontSize": 23, "fontWeight": "bold"}, "encoding": {"x": {"datum": 36, "type": "quantitative", "scale": {"domain": [0, 40], "nice": false, "zero": false}, "axis": null}, "y": {"datum": 55, "type": "quantitative", "scale": {"domain": [0, 119], "reverse": true, "nice": false, "zero": false}, "axis": null}, "text": {"field": "a"}}},
{"mark": {"type": "text", "align": "center", "baseline": "alphabetic", "fontSize": 19, "fontWeight": 300, "fontStyle": "italic"}, "encoding": {"x": {"datum": 40, "type": "quantitative", "scale": {"domain": [0, 40], "nice": false, "zero": false}, "axis": null}, "y": {"datum": 82, "type": "quantitative", "scale": {"domain": [0, 119], "reverse": true, "nice": false, "zero": false}, "axis": null}, "text": {"field": "b"}}}
]
},
{
"width": 214, "height": 119,
"layer": [
{"data": {"name": "markers"}, "transform": [{"filter": "datum.g == 'LSR Low' && datum.type == 'Stored Patterns'"}], "mark": {"type": "rule", "color": "#555555", "strokeWidth": 1, "strokeDash": [1.5, 2]}, "encoding": {"x": {"field": "x", "type": "quantitative", "scale": {"domain": [-2.26, 2.39], "nice": false, "zero": false}, "axis": null}}},
{"data": {"name": "curves"}, "transform": [{"filter": "datum.g == 'LSR Low'"}], "mark": {"type": "line", "color": "#74a9cf", "strokeWidth": 1.6, "clip": true, "interpolate": "monotone"}, "encoding": {"x": {"field": "x", "type": "quantitative", "scale": {"domain": [-2.26, 2.39], "nice": false, "zero": false}, "axis": null}, "y": {"field": "y", "type": "quantitative", "scale": {"domain": [0, 10], "nice": false, "zero": false}, "axis": null}}},
{"data": {"name": "markers"}, "transform": [{"filter": "datum.g == 'LSR Low'"}], "mark": {"type": "point", "filled": true, "opacity": 1, "clip": true}, "encoding": {"x": {"field": "x", "type": "quantitative", "scale": {"domain": [-2.26, 2.39], "nice": false, "zero": false}, "axis": null}, "y": {"field": "y", "type": "quantitative", "scale": {"domain": [0, 10], "nice": false, "zero": false}, "axis": null}, "color": {"field": "type", "type": "nominal", "scale": {"domain": ["Preserved Memories", "Novel Memories", "Stored Patterns"], "range": ["#0000ff", "#ff0000", "#000000"]}, "legend": null}, "shape": {"field": "type", "type": "nominal", "scale": {"domain": ["Preserved Memories", "Novel Memories", "Stored Patterns"], "range": ["M0,-1L0.225,-0.309L0.951,-0.309L0.363,0.118L0.588,0.809L0,0.382L-0.588,0.809L-0.363,0.118L-0.951,-0.309L-0.225,-0.309Z", "M0,-1L0.225,-0.309L0.951,-0.309L0.363,0.118L0.588,0.809L0,0.382L-0.588,0.809L-0.363,0.118L-0.951,-0.309L-0.225,-0.309Z", "circle"]}, "legend": null}, "size": {"condition": {"test": "datum.type == 'Stored Patterns'", "value": 95}, "value": 190}}},
{"data": {"values": [{}]}, "mark": {"type": "rule", "color": "#888888", "strokeWidth": 1.2}, "encoding": {"x": {"datum": 2.3, "type": "quantitative", "scale": {"domain": [-2.26, 2.39], "nice": false, "zero": false}, "axis": null}}},
{"data": {"values": [{}]}, "mark": {"type": "rule", "color": "#000000", "strokeWidth": 4, "strokeCap": "square"}, "encoding": {"y": {"datum": 10, "type": "quantitative", "scale": {"domain": [0, 10], "nice": false, "zero": false}, "axis": null}}},
{"data": {"values": [{}]}, "mark": {"type": "rule", "color": "#000000", "strokeWidth": 4, "strokeCap": "square"}, "encoding": {"y": {"datum": 0, "type": "quantitative", "scale": {"domain": [0, 10], "nice": false, "zero": false}, "axis": null}}},
{"data": {"values": [{}]}, "mark": {"type": "rule", "color": "#000000", "strokeWidth": 4, "strokeCap": "square"}, "encoding": {"x": {"datum": -2.26, "type": "quantitative", "scale": {"domain": [-2.26, 2.39], "nice": false, "zero": false}, "axis": null}, "y": {"datum": 0, "type": "quantitative", "scale": {"domain": [0, 10], "nice": false, "zero": false}, "axis": null}, "y2": {"datum": 2.35}}},
{"data": {"values": [{}]}, "mark": {"type": "rule", "color": "#000000", "strokeWidth": 4, "strokeCap": "square"}, "encoding": {"x": {"datum": -2.26, "type": "quantitative", "scale": {"domain": [-2.26, 2.39], "nice": false, "zero": false}, "axis": null}, "y": {"datum": 7.48, "type": "quantitative", "scale": {"domain": [0, 10], "nice": false, "zero": false}, "axis": null}, "y2": {"datum": 10}}}
]
},
{
"width": 220, "height": 119,
"layer": [
{"data": {"name": "markers"}, "transform": [{"filter": "datum.g == 'LSR Crit' && datum.type == 'Stored Patterns'"}], "mark": {"type": "rule", "color": "#555555", "strokeWidth": 1, "strokeDash": [1.5, 2]}, "encoding": {"x": {"field": "x", "type": "quantitative", "scale": {"domain": [-2.41, 2.43], "nice": false, "zero": false}, "axis": null}}},
{"data": {"name": "curves"}, "transform": [{"filter": "datum.g == 'LSR Crit'"}], "mark": {"type": "line", "color": "#74a9cf", "strokeWidth": 1.6, "clip": true, "interpolate": "monotone"}, "encoding": {"x": {"field": "x", "type": "quantitative", "scale": {"domain": [-2.41, 2.43], "nice": false, "zero": false}, "axis": null}, "y": {"field": "y", "type": "quantitative", "scale": {"domain": [0, 10], "nice": false, "zero": false}, "axis": null}}},
{"data": {"name": "markers"}, "transform": [{"filter": "datum.g == 'LSR Crit'"}], "mark": {"type": "point", "filled": true, "opacity": 1, "clip": true}, "encoding": {"x": {"field": "x", "type": "quantitative", "scale": {"domain": [-2.41, 2.43], "nice": false, "zero": false}, "axis": null}, "y": {"field": "y", "type": "quantitative", "scale": {"domain": [0, 10], "nice": false, "zero": false}, "axis": null}, "color": {"field": "type", "type": "nominal", "scale": {"domain": ["Preserved Memories", "Novel Memories", "Stored Patterns"], "range": ["#0000ff", "#ff0000", "#000000"]}, "legend": {"orient": "none", "legendX": 83, "legendY": 5, "title": null, "labelFont": "DejaVu Sans", "labelFontSize": 9, "labelColor": "#222222", "symbolSize": 110, "rowPadding": 3.5, "padding": 6, "fillColor": "rgba(255,255,255,0.85)", "strokeColor": "#cccccc", "cornerRadius": 2, "labelOffset": 10, "symbolStrokeWidth": 0}}, "shape": {"field": "type", "type": "nominal", "scale": {"domain": ["Preserved Memories", "Novel Memories", "Stored Patterns"], "range": ["M0,-1L0.225,-0.309L0.951,-0.309L0.363,0.118L0.588,0.809L0,0.382L-0.588,0.809L-0.363,0.118L-0.951,-0.309L-0.225,-0.309Z", "M0,-1L0.225,-0.309L0.951,-0.309L0.363,0.118L0.588,0.809L0,0.382L-0.588,0.809L-0.363,0.118L-0.951,-0.309L-0.225,-0.309Z", "circle"]}, "legend": {"orient": "none", "legendX": 83, "legendY": 5, "title": null, "labelFont": "DejaVu Sans", "labelFontSize": 9, "labelColor": "#222222", "symbolSize": 110, "rowPadding": 3.5, "padding": 6, "fillColor": "rgba(255,255,255,0.85)", "strokeColor": "#cccccc", "cornerRadius": 2, "labelOffset": 10, "symbolStrokeWidth": 0}}, "size": {"condition": {"test": "datum.type == 'Stored Patterns'", "value": 95}, "value": 190}}},
{"data": {"values": [{}]}, "mark": {"type": "rule", "color": "#888888", "strokeWidth": 1.2}, "encoding": {"x": {"datum": -2.32, "type": "quantitative", "scale": {"domain": [-2.41, 2.43], "nice": false, "zero": false}, "axis": null}}},
{"data": {"values": [{}]}, "mark": {"type": "rule", "color": "#888888", "strokeWidth": 1.2}, "encoding": {"x": {"datum": 2.32, "type": "quantitative", "scale": {"domain": [-2.41, 2.43], "nice": false, "zero": false}, "axis": null}}},
{"data": {"values": [{}]}, "mark": {"type": "rule", "color": "#000000", "strokeWidth": 4, "strokeCap": "square"}, "encoding": {"y": {"datum": 10, "type": "quantitative", "scale": {"domain": [0, 10], "nice": false, "zero": false}, "axis": null}}},
{"data": {"values": [{}]}, "mark": {"type": "rule", "color": "#000000", "strokeWidth": 4, "strokeCap": "square"}, "encoding": {"y": {"datum": 0, "type": "quantitative", "scale": {"domain": [0, 10], "nice": false, "zero": false}, "axis": null}}}
]
},
{
"width": 214, "height": 119,
"layer": [
{"data": {"name": "markers"}, "transform": [{"filter": "datum.g == 'LSR High' && datum.type == 'Stored Patterns'"}], "mark": {"type": "rule", "color": "#555555", "strokeWidth": 1, "strokeDash": [1.5, 2]}, "encoding": {"x": {"field": "x", "type": "quantitative", "scale": {"domain": [-2.38, 2.32], "nice": false, "zero": false}, "axis": null}}},
{"data": {"name": "curves"}, "transform": [{"filter": "datum.g == 'LSR High'"}], "mark": {"type": "line", "color": "#74a9cf", "strokeWidth": 1.6, "clip": true, "interpolate": "monotone"}, "encoding": {"x": {"field": "x", "type": "quantitative", "scale": {"domain": [-2.38, 2.32], "nice": false, "zero": false}, "axis": null}, "y": {"field": "y", "type": "quantitative", "scale": {"domain": [0, 10], "nice": false, "zero": false}, "axis": null}}},
{"data": {"name": "markers"}, "transform": [{"filter": "datum.g == 'LSR High'"}], "mark": {"type": "point", "filled": true, "opacity": 1, "clip": true}, "encoding": {"x": {"field": "x", "type": "quantitative", "scale": {"domain": [-2.38, 2.32], "nice": false, "zero": false}, "axis": null}, "y": {"field": "y", "type": "quantitative", "scale": {"domain": [0, 10], "nice": false, "zero": false}, "axis": null}, "color": {"field": "type", "type": "nominal", "scale": {"domain": ["Preserved Memories", "Novel Memories", "Stored Patterns"], "range": ["#0000ff", "#ff0000", "#000000"]}, "legend": null}, "shape": {"field": "type", "type": "nominal", "scale": {"domain": ["Preserved Memories", "Novel Memories", "Stored Patterns"], "range": ["M0,-1L0.225,-0.309L0.951,-0.309L0.363,0.118L0.588,0.809L0,0.382L-0.588,0.809L-0.363,0.118L-0.951,-0.309L-0.225,-0.309Z", "M0,-1L0.225,-0.309L0.951,-0.309L0.363,0.118L0.588,0.809L0,0.382L-0.588,0.809L-0.363,0.118L-0.951,-0.309L-0.225,-0.309Z", "circle"]}, "legend": null}, "size": {"condition": {"test": "datum.type == 'Stored Patterns'", "value": 95}, "value": 190}}},
{"data": {"values": [{}]}, "mark": {"type": "rule", "color": "#888888", "strokeWidth": 1.2}, "encoding": {"x": {"datum": -2.3, "type": "quantitative", "scale": {"domain": [-2.38, 2.32], "nice": false, "zero": false}, "axis": null}}},
{"data": {"values": [{}]}, "mark": {"type": "rule", "color": "#000000", "strokeWidth": 4, "strokeCap": "square"}, "encoding": {"y": {"datum": 10, "type": "quantitative", "scale": {"domain": [0, 10], "nice": false, "zero": false}, "axis": null}}},
{"data": {"values": [{}]}, "mark": {"type": "rule", "color": "#000000", "strokeWidth": 4, "strokeCap": "square"}, "encoding": {"y": {"datum": 0, "type": "quantitative", "scale": {"domain": [0, 10], "nice": false, "zero": false}, "axis": null}}},
{"data": {"values": [{}]}, "mark": {"type": "rule", "color": "#000000", "strokeWidth": 4, "strokeCap": "square"}, "encoding": {"x": {"datum": 2.32, "type": "quantitative", "scale": {"domain": [-2.38, 2.32], "nice": false, "zero": false}, "axis": null}}}
]
}
],
"spacing": 0, "bounds": "flush",
"resolve": {"scale": {"x": "independent", "y": "independent", "color": "independent", "shape": "independent"}, "legend": {"color": "independent", "shape": "independent"}}
},
{
"hconcat": [
{
"width": 29, "height": 121,
"data": {"values": [{"a": "LSE"}]},
"mark": {"type": "text", "align": "center", "baseline": "alphabetic", "fontSize": 23, "fontWeight": "bold"},
"encoding": {"x": {"datum": 35, "type": "quantitative", "scale": {"domain": [0, 29], "nice": false, "zero": false}, "axis": null}, "y": {"datum": 69, "type": "quantitative", "scale": {"domain": [0, 121], "reverse": true, "nice": false, "zero": false}, "axis": null}, "text": {"field": "a"}}
},
{
"width": 211, "height": 121,
"layer": [
{"data": {"name": "markers"}, "transform": [{"filter": "datum.g == 'LSE Low' && datum.type == 'Stored Patterns'"}], "mark": {"type": "rule", "color": "#555555", "strokeWidth": 1, "strokeDash": [1.5, 2]}, "encoding": {"x": {"field": "x", "type": "quantitative", "scale": {"domain": [-2.3, 2.28], "nice": false, "zero": false}, "axis": null}}},
{"data": {"name": "markers"}, "transform": [{"filter": "datum.g == 'LSE Low' && datum.type == 'Stored Patterns'"}], "mark": {"type": "text", "baseline": "top", "dy": 5, "fontSize": 9, "font": "DejaVu Sans", "color": "#333333"}, "encoding": {"x": {"field": "x", "type": "quantitative", "scale": {"domain": [-2.3, 2.28], "nice": false, "zero": false}, "axis": null}, "y": {"field": "y", "type": "quantitative", "scale": {"domain": [0, 10], "nice": false, "zero": false}, "axis": null}, "text": {"field": "x"}}},
{"data": {"name": "curves"}, "transform": [{"filter": "datum.g == 'LSE Low'"}], "mark": {"type": "line", "color": "#74a9cf", "strokeWidth": 1.6, "clip": true, "interpolate": "monotone"}, "encoding": {"x": {"field": "x", "type": "quantitative", "scale": {"domain": [-2.3, 2.28], "nice": false, "zero": false}, "axis": null}, "y": {"field": "y", "type": "quantitative", "scale": {"domain": [0, 10], "nice": false, "zero": false}, "axis": null}}},
{"data": {"name": "markers"}, "transform": [{"filter": "datum.g == 'LSE Low'"}], "mark": {"type": "point", "filled": true, "opacity": 1, "clip": true}, "encoding": {"x": {"field": "x", "type": "quantitative", "scale": {"domain": [-2.3, 2.28], "nice": false, "zero": false}, "axis": null}, "y": {"field": "y", "type": "quantitative", "scale": {"domain": [0, 10], "nice": false, "zero": false}, "axis": null}, "color": {"field": "type", "type": "nominal", "scale": {"domain": ["Preserved Memories", "Novel Memories", "Stored Patterns"], "range": ["#0000ff", "#ff0000", "#000000"]}, "legend": null}, "shape": {"field": "type", "type": "nominal", "scale": {"domain": ["Preserved Memories", "Novel Memories", "Stored Patterns"], "range": ["M0,-1L0.225,-0.309L0.951,-0.309L0.363,0.118L0.588,0.809L0,0.382L-0.588,0.809L-0.363,0.118L-0.951,-0.309L-0.225,-0.309Z", "M0,-1L0.225,-0.309L0.951,-0.309L0.363,0.118L0.588,0.809L0,0.382L-0.588,0.809L-0.363,0.118L-0.951,-0.309L-0.225,-0.309Z", "circle"]}, "legend": null}, "size": {"condition": {"test": "datum.type == 'Stored Patterns'", "value": 95}, "value": 190}}},
{"data": {"values": [{}]}, "mark": {"type": "rule", "color": "#707070", "strokeWidth": 1}, "encoding": {"y": {"datum": 10, "type": "quantitative", "scale": {"domain": [0, 10], "nice": false, "zero": false}, "axis": null}}},
{"data": {"values": [{}]}, "mark": {"type": "rule", "color": "#707070", "strokeWidth": 1}, "encoding": {"y": {"datum": 0, "type": "quantitative", "scale": {"domain": [0, 10], "nice": false, "zero": false}, "axis": null}}},
{"data": {"values": [{}]}, "mark": {"type": "rule", "color": "#707070", "strokeWidth": 1}, "encoding": {"x": {"datum": 2.28, "type": "quantitative", "scale": {"domain": [-2.3, 2.28], "nice": false, "zero": false}, "axis": null}}},
{"data": {"values": [{}]}, "mark": {"type": "rule", "color": "#707070", "strokeWidth": 1}, "encoding": {"x": {"datum": -2.3, "type": "quantitative", "scale": {"domain": [-2.3, 2.28], "nice": false, "zero": false}, "axis": null}, "y": {"datum": 0, "type": "quantitative", "scale": {"domain": [0, 10], "nice": false, "zero": false}, "axis": null}, "y2": {"datum": 3.64}}},
{"data": {"values": [{}]}, "mark": {"type": "rule", "color": "#707070", "strokeWidth": 1}, "encoding": {"x": {"datum": -2.3, "type": "quantitative", "scale": {"domain": [-2.3, 2.28], "nice": false, "zero": false}, "axis": null}, "y": {"datum": 6.36, "type": "quantitative", "scale": {"domain": [0, 10], "nice": false, "zero": false}, "axis": null}, "y2": {"datum": 10}}}
]
},
{
"width": 211, "height": 121,
"view": {"stroke": "#707070", "strokeWidth": 1},
"layer": [
{"data": {"name": "markers"}, "transform": [{"filter": "datum.g == 'LSE Crit' && datum.type == 'Stored Patterns'"}], "mark": {"type": "rule", "color": "#555555", "strokeWidth": 1, "strokeDash": [1.5, 2]}, "encoding": {"x": {"field": "x", "type": "quantitative", "scale": {"domain": [-2.32, 2.32], "nice": false, "zero": false}, "axis": null}}},
{"data": {"name": "markers"}, "transform": [{"filter": "datum.g == 'LSE Crit' && datum.type == 'Stored Patterns'"}], "mark": {"type": "text", "baseline": "top", "dy": 5, "fontSize": 9, "font": "DejaVu Sans", "color": "#333333"}, "encoding": {"x": {"field": "x", "type": "quantitative", "scale": {"domain": [-2.32, 2.32], "nice": false, "zero": false}, "axis": null}, "y": {"field": "y", "type": "quantitative", "scale": {"domain": [0, 10], "nice": false, "zero": false}, "axis": null}, "text": {"field": "x"}}},
{"data": {"name": "curves"}, "transform": [{"filter": "datum.g == 'LSE Crit'"}], "mark": {"type": "line", "color": "#74a9cf", "strokeWidth": 1.6, "clip": true, "interpolate": "monotone"}, "encoding": {"x": {"field": "x", "type": "quantitative", "scale": {"domain": [-2.32, 2.32], "nice": false, "zero": false}, "axis": null}, "y": {"field": "y", "type": "quantitative", "scale": {"domain": [0, 10], "nice": false, "zero": false}, "axis": null}}},
{"data": {"name": "markers"}, "transform": [{"filter": "datum.g == 'LSE Crit'"}], "mark": {"type": "point", "filled": true, "opacity": 1, "clip": true}, "encoding": {"x": {"field": "x", "type": "quantitative", "scale": {"domain": [-2.32, 2.32], "nice": false, "zero": false}, "axis": null}, "y": {"field": "y", "type": "quantitative", "scale": {"domain": [0, 10], "nice": false, "zero": false}, "axis": null}, "color": {"field": "type", "type": "nominal", "scale": {"domain": ["Preserved Memories", "Novel Memories", "Stored Patterns"], "range": ["#0000ff", "#ff0000", "#000000"]}, "legend": null}, "shape": {"field": "type", "type": "nominal", "scale": {"domain": ["Preserved Memories", "Novel Memories", "Stored Patterns"], "range": ["M0,-1L0.225,-0.309L0.951,-0.309L0.363,0.118L0.588,0.809L0,0.382L-0.588,0.809L-0.363,0.118L-0.951,-0.309L-0.225,-0.309Z", "M0,-1L0.225,-0.309L0.951,-0.309L0.363,0.118L0.588,0.809L0,0.382L-0.588,0.809L-0.363,0.118L-0.951,-0.309L-0.225,-0.309Z", "circle"]}, "legend": null}, "size": {"condition": {"test": "datum.type == 'Stored Patterns'", "value": 95}, "value": 190}}}
]
},
{
"width": 210, "height": 121,
"view": {"stroke": "#707070", "strokeWidth": 1},
"layer": [
{"data": {"name": "markers"}, "transform": [{"filter": "datum.g == 'LSE High' && datum.type == 'Stored Patterns'"}], "mark": {"type": "rule", "color": "#555555", "strokeWidth": 1, "strokeDash": [1.5, 2]}, "encoding": {"x": {"field": "x", "type": "quantitative", "scale": {"domain": [-2.3, 2.32], "nice": false, "zero": false}, "axis": null}}},
{"data": {"name": "markers"}, "transform": [{"filter": "datum.g == 'LSE High' && datum.type == 'Stored Patterns'"}], "mark": {"type": "text", "baseline": "top", "dy": 5, "fontSize": 9, "font": "DejaVu Sans", "color": "#333333"}, "encoding": {"x": {"field": "x", "type": "quantitative", "scale": {"domain": [-2.3, 2.32], "nice": false, "zero": false}, "axis": null}, "y": {"field": "y", "type": "quantitative", "scale": {"domain": [0, 10], "nice": false, "zero": false}, "axis": null}, "text": {"field": "x"}}},
{"data": {"name": "curves"}, "transform": [{"filter": "datum.g == 'LSE High'"}], "mark": {"type": "line", "color": "#74a9cf", "strokeWidth": 1.6, "clip": true, "interpolate": "monotone"}, "encoding": {"x": {"field": "x", "type": "quantitative", "scale": {"domain": [-2.3, 2.32], "nice": false, "zero": false}, "axis": null}, "y": {"field": "y", "type": "quantitative", "scale": {"domain": [0, 10], "nice": false, "zero": false}, "axis": null}}},
{"data": {"name": "markers"}, "transform": [{"filter": "datum.g == 'LSE High'"}], "mark": {"type": "point", "filled": true, "opacity": 1, "clip": true}, "encoding": {"x": {"field": "x", "type": "quantitative", "scale": {"domain": [-2.3, 2.32], "nice": false, "zero": false}, "axis": null}, "y": {"field": "y", "type": "quantitative", "scale": {"domain": [0, 10], "nice": false, "zero": false}, "axis": null}, "color": {"field": "type", "type": "nominal", "scale": {"domain": ["Preserved Memories", "Novel Memories", "Stored Patterns"], "range": ["#0000ff", "#ff0000", "#000000"]}, "legend": null}, "shape": {"field": "type", "type": "nominal", "scale": {"domain": ["Preserved Memories", "Novel Memories", "Stored Patterns"], "range": ["M0,-1L0.225,-0.309L0.951,-0.309L0.363,0.118L0.588,0.809L0,0.382L-0.588,0.809L-0.363,0.118L-0.951,-0.309L-0.225,-0.309Z", "M0,-1L0.225,-0.309L0.951,-0.309L0.363,0.118L0.588,0.809L0,0.382L-0.588,0.809L-0.363,0.118L-0.951,-0.309L-0.225,-0.309Z", "circle"]}, "legend": null}, "size": {"condition": {"test": "datum.type == 'Stored Patterns'", "value": 95}, "value": 190}}}
]
}
],
"spacing": 9, "bounds": "flush",
"resolve": {"scale": {"x": "independent", "y": "independent", "color": "independent", "shape": "independent"}, "legend": {"color": "independent", "shape": "independent"}}
}
],
"spacing": 7.5,
"resolve": {"scale": {"x": "independent", "y": "independent", "color": "independent", "shape": "independent"}, "legend": {"color": "independent", "shape": "independent"}}
}
],
"spacing": 0,
"resolve": {"scale": {"x": "independent", "y": "independent", "color": "independent", "shape": "independent"}, "legend": {"color": "independent", "shape": "independent"}}
},
{
"width": 13, "height": 408,
"data": {"values": [{}]},
"mark": {"type": "rule", "color": "#aaaaaa", "strokeWidth": 2},
"encoding": {"x": {"datum": 0, "type": "quantitative", "scale": {"domain": [0, 1], "nice": false, "zero": false}, "axis": null}, "y": {"datum": 0, "type": "quantitative", "scale": {"domain": [0, 1], "nice": false, "zero": false}, "axis": null}, "y2": {"datum": 0.96}}
},
{
"vconcat": [
{
"hconcat": [
{
"width": 188, "height": 28,
"data": {"name": "counts"}, "transform": [{"filter": "datum.p == '0.3'"}],
"layer": [
{"mark": {"type": "text", "align": "left", "baseline": "alphabetic", "dx": -77, "dy": -6, "fontSize": 17, "fontWeight": "bold", "color": "#ff0000"}, "encoding": {"x": {"datum": 0, "type": "quantitative", "scale": {"domain": [-1.88, 1.88], "nice": false, "zero": false}, "axis": null}, "y": {"datum": 0, "type": "quantitative", "scale": {"domain": [0, 1], "nice": false, "zero": false}, "axis": null}, "text": {"field": "novel"}}},
{"mark": {"type": "text", "align": "left", "baseline": "alphabetic", "dx": -64, "dy": -6, "fontSize": 17, "color": "#ff0000", "text": "novel"}, "encoding": {"x": {"datum": 0, "type": "quantitative", "scale": {"domain": [-1.88, 1.88], "nice": false, "zero": false}, "axis": null}, "y": {"datum": 0, "type": "quantitative", "scale": {"domain": [0, 1], "nice": false, "zero": false}, "axis": null}}},
{"mark": {"type": "text", "align": "left", "baseline": "alphabetic", "dx": -5, "dy": -6, "fontSize": 17, "fontWeight": "bold", "color": "#0000ff"}, "encoding": {"x": {"datum": 0, "type": "quantitative", "scale": {"domain": [-1.88, 1.88], "nice": false, "zero": false}, "axis": null}, "y": {"datum": 0, "type": "quantitative", "scale": {"domain": [0, 1], "nice": false, "zero": false}, "axis": null}, "text": {"field": "preserved"}}},
{"mark": {"type": "text", "align": "left", "baseline": "alphabetic", "dx": 9, "dy": -6, "fontSize": 17, "color": "#0000ff", "text": "preserved"}, "encoding": {"x": {"datum": 0, "type": "quantitative", "scale": {"domain": [-1.88, 1.88], "nice": false, "zero": false}, "axis": null}, "y": {"datum": 0, "type": "quantitative", "scale": {"domain": [0, 1], "nice": false, "zero": false}, "axis": null}}}
]
},
{
"width": 188, "height": 28,
"data": {"name": "counts"}, "transform": [{"filter": "datum.p == '0.6'"}],
"layer": [
{"mark": {"type": "text", "align": "left", "baseline": "alphabetic", "dx": -79, "dy": -6, "fontSize": 17, "fontWeight": "bold", "color": "#ff0000"}, "encoding": {"x": {"datum": 0, "type": "quantitative", "scale": {"domain": [-1.88, 1.88], "nice": false, "zero": false}, "axis": null}, "y": {"datum": 0, "type": "quantitative", "scale": {"domain": [0, 1], "nice": false, "zero": false}, "axis": null}, "text": {"field": "novel"}}},
{"mark": {"type": "text", "align": "left", "baseline": "alphabetic", "dx": -65, "dy": -6, "fontSize": 17, "color": "#ff0000", "text": "novel"}, "encoding": {"x": {"datum": 0, "type": "quantitative", "scale": {"domain": [-1.88, 1.88], "nice": false, "zero": false}, "axis": null}, "y": {"datum": 0, "type": "quantitative", "scale": {"domain": [0, 1], "nice": false, "zero": false}, "axis": null}}},
{"mark": {"type": "text", "align": "left", "baseline": "alphabetic", "dx": -6, "dy": -6, "fontSize": 17, "fontWeight": "bold", "color": "#0000ff"}, "encoding": {"x": {"datum": 0, "type": "quantitative", "scale": {"domain": [-1.88, 1.88], "nice": false, "zero": false}, "axis": null}, "y": {"datum": 0, "type": "quantitative", "scale": {"domain": [0, 1], "nice": false, "zero": false}, "axis": null}, "text": {"field": "preserved"}}},
{"mark": {"type": "text", "align": "left", "baseline": "alphabetic", "dx": 7, "dy": -6, "fontSize": 17, "color": "#0000ff", "text": "preserved"}, "encoding": {"x": {"datum": 0, "type": "quantitative", "scale": {"domain": [-1.88, 1.88], "nice": false, "zero": false}, "axis": null}, "y": {"datum": 0, "type": "quantitative", "scale": {"domain": [0, 1], "nice": false, "zero": false}, "axis": null}}}
]
}
],
"spacing": 5, "bounds": "flush",
"resolve": {"scale": {"x": "independent", "y": "independent"}}
},
{
"hconcat": [
{
"width": 188, "height": 173,
"view": {"fill": "#dadada", "stroke": "#9a9a9a"},
"layer": [
{"data": {"name": "contours"}, "transform": [{"filter": "datum.p == '0.3'"}], "mark": {"type": "point", "shape": "circle", "filled": true, "opacity": 1, "clip": true}, "encoding": {"x": {"field": "x", "type": "quantitative", "scale": {"domain": [-1.88, 1.88], "nice": false, "zero": false}, "axis": null}, "y": {"field": "y", "type": "quantitative", "scale": {"domain": [-1.73, 1.73], "nice": false, "zero": false}, "axis": null}, "size": {"field": "r", "type": "quantitative", "scale": {"type": "pow", "exponent": 2, "domain": [0, 1], "range": [0, 7854], "clamp": false, "zero": true}, "legend": null}, "fill": {"value": "#ffffff"}, "stroke": {"condition": [{"test": "datum.lv == 0", "value": "#b5c95a"}, {"test": "datum.lv == 1", "value": "#5fa3a8"}], "value": "#9a83bb"}, "strokeWidth": {"condition": {"test": "datum.ps == 2", "value": 0}, "value": 1}}},
{"data": {"name": "memories"}, "transform": [{"filter": "datum.p == '0.3'"}], "mark": {"type": "point", "filled": true, "opacity": 1, "clip": true}, "encoding": {"x": {"field": "x", "type": "quantitative", "scale": {"domain": [-1.88, 1.88], "nice": false, "zero": false}, "axis": null}, "y": {"field": "y", "type": "quantitative", "scale": {"domain": [-1.73, 1.73], "nice": false, "zero": false}, "axis": null}, "color": {"field": "type", "type": "nominal", "scale": {"domain": ["Stored patterns", "Novel memories", "Preserved memories"], "range": ["#222222", "#ff0000", "#0000ff"]}, "legend": {"orient": "none", "legendX": 4, "legendY": 131, "title": null, "labelFont": "DejaVu Sans", "labelFontSize": 7.5, "labelColor": "#222222", "symbolSize": 60, "rowPadding": 2, "padding": 4, "fillColor": "#ffffff", "strokeColor": "#bbbbbb", "cornerRadius": 2, "labelOffset": 7, "symbolStrokeWidth": 0}}, "shape": {"field": "type", "type": "nominal", "scale": {"domain": ["Stored patterns", "Novel memories", "Preserved memories"], "range": ["circle", "M0,-1L0.225,-0.309L0.951,-0.309L0.363,0.118L0.588,0.809L0,0.382L-0.588,0.809L-0.363,0.118L-0.951,-0.309L-0.225,-0.309Z", "M0,-1L0.225,-0.309L0.951,-0.309L0.363,0.118L0.588,0.809L0,0.382L-0.588,0.809L-0.363,0.118L-0.951,-0.309L-0.225,-0.309Z"]}, "legend": {"orient": "none", "legendX": 4, "legendY": 131, "title": null, "labelFont": "DejaVu Sans", "labelFontSize": 7.5, "labelColor": "#222222", "symbolSize": 60, "rowPadding": 2, "padding": 4, "fillColor": "#ffffff", "strokeColor": "#bbbbbb", "cornerRadius": 2, "labelOffset": 7, "symbolStrokeWidth": 0}}, "size": {"condition": {"test": "datum.type == 'Stored patterns'", "value": 28}, "value": 100}}},
{"data": {"name": "counts"}, "transform": [{"filter": "datum.p == '0.3'"}], "mark": {"type": "text", "align": "right", "baseline": "alphabetic", "dx": -10, "dy": -14, "fontSize": 16, "fill": "#ffffff", "stroke": "#ffffff", "strokeWidth": 4, "strokeJoin": "round"}, "encoding": {"x": {"datum": 1.88, "type": "quantitative", "scale": {"domain": [-1.88, 1.88], "nice": false, "zero": false}, "axis": null}, "y": {"datum": -1.73, "type": "quantitative", "scale": {"domain": [-1.73, 1.73], "nice": false, "zero": false}, "axis": null}, "text": {"field": "beta"}}},
{"data": {"name": "counts"}, "transform": [{"filter": "datum.p == '0.3'"}], "mark": {"type": "text", "align": "right", "baseline": "alphabetic", "dx": -10, "dy": -14, "fontSize": 16, "fill": "#000000"}, "encoding": {"x": {"datum": 1.88, "type": "quantitative", "scale": {"domain": [-1.88, 1.88], "nice": false, "zero": false}, "axis": null}, "y": {"datum": -1.73, "type": "quantitative", "scale": {"domain": [-1.73, 1.73], "nice": false, "zero": false}, "axis": null}, "text": {"field": "beta"}}}
]
},
{
"width": 188, "height": 173,
"view": {"fill": "#dadada", "stroke": "#9a9a9a"},
"layer": [
{"data": {"name": "contours"}, "transform": [{"filter": "datum.p == '0.6'"}], "mark": {"type": "point", "shape": "circle", "filled": true, "opacity": 1, "clip": true}, "encoding": {"x": {"field": "x", "type": "quantitative", "scale": {"domain": [-1.88, 1.88], "nice": false, "zero": false}, "axis": null}, "y": {"field": "y", "type": "quantitative", "scale": {"domain": [-1.73, 1.73], "nice": false, "zero": false}, "axis": null}, "size": {"field": "r", "type": "quantitative", "scale": {"type": "pow", "exponent": 2, "domain": [0, 1], "range": [0, 7854], "clamp": false, "zero": true}, "legend": null}, "fill": {"value": "#ffffff"}, "stroke": {"condition": [{"test": "datum.lv == 0", "value": "#b5c95a"}, {"test": "datum.lv == 1", "value": "#5fa3a8"}], "value": "#9a83bb"}, "strokeWidth": {"condition": {"test": "datum.ps == 2", "value": 0}, "value": 1}}},
{"data": {"name": "memories"}, "transform": [{"filter": "datum.p == '0.6'"}], "mark": {"type": "point", "filled": true, "opacity": 1, "clip": true}, "encoding": {"x": {"field": "x", "type": "quantitative", "scale": {"domain": [-1.88, 1.88], "nice": false, "zero": false}, "axis": null}, "y": {"field": "y", "type": "quantitative", "scale": {"domain": [-1.73, 1.73], "nice": false, "zero": false}, "axis": null}, "color": {"field": "type", "type": "nominal", "scale": {"domain": ["Stored patterns", "Novel memories", "Preserved memories"], "range": ["#222222", "#ff0000", "#0000ff"]}, "legend": null}, "shape": {"field": "type", "type": "nominal", "scale": {"domain": ["Stored patterns", "Novel memories", "Preserved memories"], "range": ["circle", "M0,-1L0.225,-0.309L0.951,-0.309L0.363,0.118L0.588,0.809L0,0.382L-0.588,0.809L-0.363,0.118L-0.951,-0.309L-0.225,-0.309Z", "M0,-1L0.225,-0.309L0.951,-0.309L0.363,0.118L0.588,0.809L0,0.382L-0.588,0.809L-0.363,0.118L-0.951,-0.309L-0.225,-0.309Z"]}, "legend": null}, "size": {"condition": {"test": "datum.type == 'Stored patterns'", "value": 28}, "value": 100}}},
{"data": {"name": "counts"}, "transform": [{"filter": "datum.p == '0.6'"}], "mark": {"type": "text", "align": "right", "baseline": "alphabetic", "dx": -10, "dy": -14, "fontSize": 16, "fill": "#ffffff", "stroke": "#ffffff", "strokeWidth": 4, "strokeJoin": "round"}, "encoding": {"x": {"datum": 1.88, "type": "quantitative", "scale": {"domain": [-1.88, 1.88], "nice": false, "zero": false}, "axis": null}, "y": {"datum": -1.73, "type": "quantitative", "scale": {"domain": [-1.73, 1.73], "nice": false, "zero": false}, "axis": null}, "text": {"field": "beta"}}},
{"data": {"name": "counts"}, "transform": [{"filter": "datum.p == '0.6'"}], "mark": {"type": "text", "align": "right", "baseline": "alphabetic", "dx": -10, "dy": -14, "fontSize": 16, "fill": "#000000"}, "encoding": {"x": {"datum": 1.88, "type": "quantitative", "scale": {"domain": [-1.88, 1.88], "nice": false, "zero": false}, "axis": null}, "y": {"datum": -1.73, "type": "quantitative", "scale": {"domain": [-1.73, 1.73], "nice": false, "zero": false}, "axis": null}, "text": {"field": "beta"}}}
]
}
],
"spacing": 5, "bounds": "flush",
"resolve": {"scale": {"x": "independent", "y": "independent", "color": "independent", "shape": "independent", "size": "independent"}, "legend": {"color": "independent", "shape": "independent", "size": "independent"}}
},
{
"hconcat": [
{
"width": 188, "height": 173,
"view": {"fill": "#dadada", "stroke": "#9a9a9a"},
"layer": [
{"data": {"name": "contours"}, "transform": [{"filter": "datum.p == '1.1'"}], "mark": {"type": "point", "shape": "circle", "filled": true, "opacity": 1, "clip": true}, "encoding": {"x": {"field": "x", "type": "quantitative", "scale": {"domain": [-1.88, 1.88], "nice": false, "zero": false}, "axis": null}, "y": {"field": "y", "type": "quantitative", "scale": {"domain": [-1.73, 1.73], "nice": false, "zero": false}, "axis": null}, "size": {"field": "r", "type": "quantitative", "scale": {"type": "pow", "exponent": 2, "domain": [0, 1], "range": [0, 7854], "clamp": false, "zero": true}, "legend": null}, "fill": {"value": "#ffffff"}, "stroke": {"condition": [{"test": "datum.lv == 0", "value": "#b5c95a"}, {"test": "datum.lv == 1", "value": "#5fa3a8"}], "value": "#9a83bb"}, "strokeWidth": {"condition": {"test": "datum.ps == 2", "value": 0}, "value": 1}}},
{"data": {"name": "memories"}, "transform": [{"filter": "datum.p == '1.1'"}], "mark": {"type": "point", "filled": true, "opacity": 1, "clip": true}, "encoding": {"x": {"field": "x", "type": "quantitative", "scale": {"domain": [-1.88, 1.88], "nice": false, "zero": false}, "axis": null}, "y": {"field": "y", "type": "quantitative", "scale": {"domain": [-1.73, 1.73], "nice": false, "zero": false}, "axis": null}, "color": {"field": "type", "type": "nominal", "scale": {"domain": ["Stored patterns", "Novel memories", "Preserved memories"], "range": ["#222222", "#ff0000", "#0000ff"]}, "legend": null}, "shape": {"field": "type", "type": "nominal", "scale": {"domain": ["Stored patterns", "Novel memories", "Preserved memories"], "range": ["circle", "M0,-1L0.225,-0.309L0.951,-0.309L0.363,0.118L0.588,0.809L0,0.382L-0.588,0.809L-0.363,0.118L-0.951,-0.309L-0.225,-0.309Z", "M0,-1L0.225,-0.309L0.951,-0.309L0.363,0.118L0.588,0.809L0,0.382L-0.588,0.809L-0.363,0.118L-0.951,-0.309L-0.225,-0.309Z"]}, "legend": null}, "size": {"condition": {"test": "datum.type == 'Stored patterns'", "value": 28}, "value": 100}}},
{"data": {"name": "counts"}, "transform": [{"filter": "datum.p == '1.1'"}], "mark": {"type": "text", "align": "right", "baseline": "alphabetic", "dx": -11, "dy": -14, "fontSize": 16, "fill": "#ffffff", "stroke": "#ffffff", "strokeWidth": 4, "strokeJoin": "round"}, "encoding": {"x": {"datum": 1.88, "type": "quantitative", "scale": {"domain": [-1.88, 1.88], "nice": false, "zero": false}, "axis": null}, "y": {"datum": -1.73, "type": "quantitative", "scale": {"domain": [-1.73, 1.73], "nice": false, "zero": false}, "axis": null}, "text": {"field": "beta"}}},
{"data": {"name": "counts"}, "transform": [{"filter": "datum.p == '1.1'"}], "mark": {"type": "text", "align": "right", "baseline": "alphabetic", "dx": -11, "dy": -14, "fontSize": 16, "fill": "#000000"}, "encoding": {"x": {"datum": 1.88, "type": "quantitative", "scale": {"domain": [-1.88, 1.88], "nice": false, "zero": false}, "axis": null}, "y": {"datum": -1.73, "type": "quantitative", "scale": {"domain": [-1.73, 1.73], "nice": false, "zero": false}, "axis": null}, "text": {"field": "beta"}}},
{"data": {"name": "counts"}, "transform": [{"filter": "datum.p == '1.1'"}], "mark": {"type": "text", "align": "left", "baseline": "alphabetic", "dx": -87, "dy": 20, "fontSize": 17, "fontWeight": "bold", "color": "#ff0000"}, "encoding": {"x": {"datum": 0, "type": "quantitative", "scale": {"domain": [-1.88, 1.88], "nice": false, "zero": false}, "axis": null}, "y": {"datum": -1.73, "type": "quantitative", "scale": {"domain": [-1.73, 1.73], "nice": false, "zero": false}, "axis": null}, "text": {"field": "novel"}}},
{"data": {"name": "counts"}, "transform": [{"filter": "datum.p == '1.1'"}], "mark": {"type": "text", "align": "left", "baseline": "alphabetic", "dx": -74, "dy": 20, "fontSize": 17, "color": "#ff0000", "text": "novel"}, "encoding": {"x": {"datum": 0, "type": "quantitative", "scale": {"domain": [-1.88, 1.88], "nice": false, "zero": false}, "axis": null}, "y": {"datum": -1.73, "type": "quantitative", "scale": {"domain": [-1.73, 1.73], "nice": false, "zero": false}, "axis": null}}},
{"data": {"name": "counts"}, "transform": [{"filter": "datum.p == '1.1'"}], "mark": {"type": "text", "align": "left", "baseline": "alphabetic", "dx": -14, "dy": 20, "fontSize": 17, "fontWeight": "bold", "color": "#0000ff"}, "encoding": {"x": {"datum": 0, "type": "quantitative", "scale": {"domain": [-1.88, 1.88], "nice": false, "zero": false}, "axis": null}, "y": {"datum": -1.73, "type": "quantitative", "scale": {"domain": [-1.73, 1.73], "nice": false, "zero": false}, "axis": null}, "text": {"field": "preserved"}}},
{"data": {"name": "counts"}, "transform": [{"filter": "datum.p == '1.1'"}], "mark": {"type": "text", "align": "left", "baseline": "alphabetic", "dx": -1, "dy": 20, "fontSize": 17, "color": "#0000ff", "text": "preserved"}, "encoding": {"x": {"datum": 0, "type": "quantitative", "scale": {"domain": [-1.88, 1.88], "nice": false, "zero": false}, "axis": null}, "y": {"datum": -1.73, "type": "quantitative", "scale": {"domain": [-1.73, 1.73], "nice": false, "zero": false}, "axis": null}}}
]
},
{
"width": 188, "height": 173,
"view": {"fill": "#dadada", "stroke": "#9a9a9a"},
"layer": [
{"data": {"name": "contours"}, "transform": [{"filter": "datum.p == '2.1'"}], "mark": {"type": "point", "shape": "circle", "filled": true, "opacity": 1, "clip": true}, "encoding": {"x": {"field": "x", "type": "quantitative", "scale": {"domain": [-1.88, 1.88], "nice": false, "zero": false}, "axis": null}, "y": {"field": "y", "type": "quantitative", "scale": {"domain": [-1.73, 1.73], "nice": false, "zero": false}, "axis": null}, "size": {"field": "r", "type": "quantitative", "scale": {"type": "pow", "exponent": 2, "domain": [0, 1], "range": [0, 7854], "clamp": false, "zero": true}, "legend": null}, "fill": {"value": "#ffffff"}, "stroke": {"condition": [{"test": "datum.lv == 0", "value": "#b5c95a"}, {"test": "datum.lv == 1", "value": "#5fa3a8"}], "value": "#9a83bb"}, "strokeWidth": {"condition": {"test": "datum.ps == 2", "value": 0}, "value": 1}}},
{"data": {"name": "memories"}, "transform": [{"filter": "datum.p == '2.1'"}], "mark": {"type": "point", "filled": true, "opacity": 1, "clip": true}, "encoding": {"x": {"field": "x", "type": "quantitative", "scale": {"domain": [-1.88, 1.88], "nice": false, "zero": false}, "axis": null}, "y": {"field": "y", "type": "quantitative", "scale": {"domain": [-1.73, 1.73], "nice": false, "zero": false}, "axis": null}, "color": {"field": "type", "type": "nominal", "scale": {"domain": ["Stored patterns", "Novel memories", "Preserved memories"], "range": ["#222222", "#ff0000", "#0000ff"]}, "legend": null}, "shape": {"field": "type", "type": "nominal", "scale": {"domain": ["Stored patterns", "Novel memories", "Preserved memories"], "range": ["circle", "M0,-1L0.225,-0.309L0.951,-0.309L0.363,0.118L0.588,0.809L0,0.382L-0.588,0.809L-0.363,0.118L-0.951,-0.309L-0.225,-0.309Z", "M0,-1L0.225,-0.309L0.951,-0.309L0.363,0.118L0.588,0.809L0,0.382L-0.588,0.809L-0.363,0.118L-0.951,-0.309L-0.225,-0.309Z"]}, "legend": null}, "size": {"condition": {"test": "datum.type == 'Stored patterns'", "value": 28}, "value": 100}}},
{"data": {"name": "counts"}, "transform": [{"filter": "datum.p == '2.1'"}], "mark": {"type": "text", "align": "right", "baseline": "alphabetic", "dx": -11, "dy": -14, "fontSize": 16, "fill": "#ffffff", "stroke": "#ffffff", "strokeWidth": 4, "strokeJoin": "round"}, "encoding": {"x": {"datum": 1.88, "type": "quantitative", "scale": {"domain": [-1.88, 1.88], "nice": false, "zero": false}, "axis": null}, "y": {"datum": -1.73, "type": "quantitative", "scale": {"domain": [-1.73, 1.73], "nice": false, "zero": false}, "axis": null}, "text": {"field": "beta"}}},
{"data": {"name": "counts"}, "transform": [{"filter": "datum.p == '2.1'"}], "mark": {"type": "text", "align": "right", "baseline": "alphabetic", "dx": -11, "dy": -14, "fontSize": 16, "fill": "#000000"}, "encoding": {"x": {"datum": 1.88, "type": "quantitative", "scale": {"domain": [-1.88, 1.88], "nice": false, "zero": false}, "axis": null}, "y": {"datum": -1.73, "type": "quantitative", "scale": {"domain": [-1.73, 1.73], "nice": false, "zero": false}, "axis": null}, "text": {"field": "beta"}}},
{"data": {"name": "counts"}, "transform": [{"filter": "datum.p == '2.1'"}], "mark": {"type": "text", "align": "left", "baseline": "alphabetic", "dx": -79, "dy": 20, "fontSize": 17, "fontWeight": "bold", "color": "#ff0000"}, "encoding": {"x": {"datum": 0, "type": "quantitative", "scale": {"domain": [-1.88, 1.88], "nice": false, "zero": false}, "axis": null}, "y": {"datum": -1.73, "type": "quantitative", "scale": {"domain": [-1.73, 1.73], "nice": false, "zero": false}, "axis": null}, "text": {"field": "novel"}}},
{"data": {"name": "counts"}, "transform": [{"filter": "datum.p == '2.1'"}], "mark": {"type": "text", "align": "left", "baseline": "alphabetic", "dx": -65, "dy": 20, "fontSize": 17, "color": "#ff0000", "text": "novel"}, "encoding": {"x": {"datum": 0, "type": "quantitative", "scale": {"domain": [-1.88, 1.88], "nice": false, "zero": false}, "axis": null}, "y": {"datum": -1.73, "type": "quantitative", "scale": {"domain": [-1.73, 1.73], "nice": false, "zero": false}, "axis": null}}},
{"data": {"name": "counts"}, "transform": [{"filter": "datum.p == '2.1'"}], "mark": {"type": "text", "align": "left", "baseline": "alphabetic", "dx": -6, "dy": 20, "fontSize": 17, "fontWeight": "bold", "color": "#0000ff"}, "encoding": {"x": {"datum": 0, "type": "quantitative", "scale": {"domain": [-1.88, 1.88], "nice": false, "zero": false}, "axis": null}, "y": {"datum": -1.73, "type": "quantitative", "scale": {"domain": [-1.73, 1.73], "nice": false, "zero": false}, "axis": null}, "text": {"field": "preserved"}}},
{"data": {"name": "counts"}, "transform": [{"filter": "datum.p == '2.1'"}], "mark": {"type": "text", "align": "left", "baseline": "alphabetic", "dx": 7, "dy": 20, "fontSize": 17, "color": "#0000ff", "text": "preserved"}, "encoding": {"x": {"datum": 0, "type": "quantitative", "scale": {"domain": [-1.88, 1.88], "nice": false, "zero": false}, "axis": null}, "y": {"datum": -1.73, "type": "quantitative", "scale": {"domain": [-1.73, 1.73], "nice": false, "zero": false}, "axis": null}}}
]
}
],
"spacing": 5, "bounds": "flush",
"resolve": {"scale": {"x": "independent", "y": "independent", "color": "independent", "shape": "independent", "size": "independent"}, "legend": {"color": "independent", "shape": "independent", "size": "independent"}}
}
],
"spacing": 4.5,
"resolve": {"scale": {"x": "independent", "y": "independent", "color": "independent", "shape": "independent", "size": "independent"}, "legend": {"color": "independent", "shape": "independent", "size": "independent"}}
}
],
"spacing": 12,
"resolve": {"scale": {"x": "independent", "y": "independent", "color": "independent", "shape": "independent", "size": "independent"}, "legend": {"color": "independent", "shape": "independent", "size": "independent"}}
}
